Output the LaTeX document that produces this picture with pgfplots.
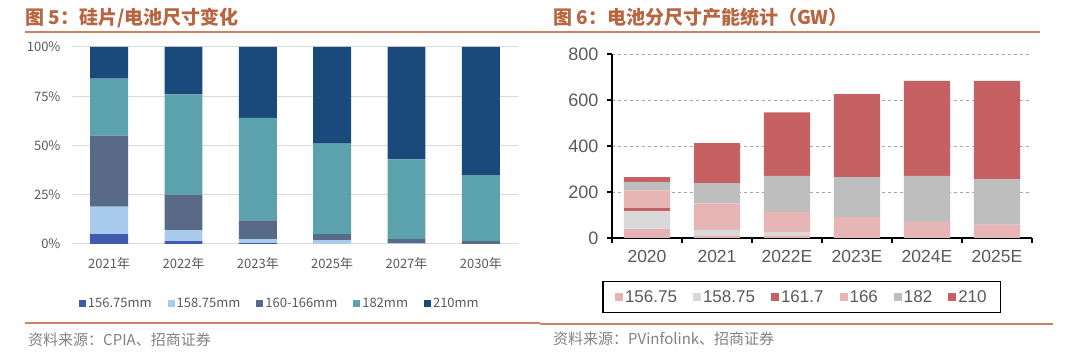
\documentclass[border=0pt]{standalone}
\usepackage{pgfplots}
\pgfplotsset{compat=1.18}
\usepackage{fontspec}
\setmainfont{Liberation Sans}
\newfontfamily\cjk{Noto Sans CJK SC}
\newfontfamily\arial{Liberation Sans}
\definecolor{titlebrown}{RGB}{184,102,66}
\definecolor{linebrown}{RGB}{205,130,100}
\definecolor{lblgrey}{RGB}{90,90,90}
\definecolor{srcgrey}{RGB}{130,130,130}
\definecolor{gridgrey}{RGB}{217,217,217}
\definecolor{cA}{RGB}{64,90,172}
\definecolor{cB}{RGB}{169,203,238}
\definecolor{cC}{RGB}{88,106,133}
\definecolor{cD}{RGB}{91,162,172}
\definecolor{cE}{RGB}{26,74,124}
\definecolor{pA}{RGB}{231,178,179}
\definecolor{pB}{RGB}{217,217,217}
\definecolor{pC}{RGB}{198,97,99}
\definecolor{pD}{RGB}{231,181,182}
\definecolor{pE}{RGB}{190,190,190}
\definecolor{pF}{RGB}{198,97,99}
\begin{document}
\begin{tikzpicture}[x=1pt,y=1pt]
\path[use as bounding box, fill=white] (0pt,0pt) rectangle (1080pt,364pt);
% titles
\node[anchor=base west, inner sep=0, text=titlebrown] at (25pt,339pt) {\cjk\bfseries\fontsize{19}{19}\selectfont 图 5：硅片/电池尺寸变化};
\node[anchor=base west, inner sep=0, text=titlebrown] at (553pt,339pt) {\cjk\bfseries\fontsize{19}{19}\selectfont 图 6：电池分尺寸产能统计（GW）};
\draw[linebrown, line width=2pt] (25pt,332pt) -- (540pt,332pt);
\draw[linebrown, line width=2pt] (540pt,332pt) -- (1040pt,332pt);
\draw[linebrown, line width=1.2pt] (25pt,41pt) -- (540pt,41pt);
\draw[linebrown, line width=1.2pt] (540pt,40pt) -- (1053pt,40pt);
\node[anchor=base west, inner sep=0, text=srcgrey] at (28pt,18pt) {\cjk\fontsize{15}{15}\selectfont 资料来源：CPIA、招商证券};
\node[anchor=base west, inner sep=0, text=srcgrey] at (553pt,19pt) {\cjk\fontsize{15}{15}\selectfont 资料来源：PVinfolink、招商证券};

% left chart
\begin{axis}[
  at={(72pt,120pt)}, anchor=south west,
  width=446pt, height=197pt, scale only axis,
  ybar stacked, bar width=0.51,
  xmin=-0.5, xmax=5.5, ymin=0, ymax=100,
  axis line style={draw=none},
  major tick length=0pt,
  ymajorgrids, grid style={gridgrey, line width=1pt},
  xtick={0,...,5},
  xticklabels={2021年,2022年,2023年,2025年,2027年,2030年},
  ytick={0,25,50,75,100},
  yticklabels={0\%,25\%,50\%,75\%,100\%},
  tick label style={font=\cjk\fontsize{13}{13}\selectfont, text=lblgrey},
  xticklabel style={yshift=-10pt},
  yticklabel style={xshift=-8pt},
  legend columns=5,
  legend style={at={(0.466,-0.30)}, anchor=center, draw=none, fill=none,
    font=\cjk\fontsize{13}{13}\selectfont, text=lblgrey,
    /tikz/every even column/.append style={column sep=14pt}},
  legend image code/.code={\path[#1, draw=none] (0pt,-3.5pt) rectangle (7pt,3.5pt);},
  every axis plot/.append style={draw=none},
]
\addplot[fill=cA] coordinates {(0,5) (1,1.5) (2,0.5) (3,0) (4,0) (5,0)};
\addplot[fill=cB] coordinates {(0,14) (1,5.5) (2,2) (3,2) (4,0.5) (5,0)};
\addplot[fill=cC] coordinates {(0,36) (1,18) (2,9.5) (3,3) (4,2) (5,1.5)};
\addplot[fill=cD] coordinates {(0,29) (1,51) (2,52) (3,46) (4,40.5) (5,33.5)};
\addplot[fill=cE] coordinates {(0,16) (1,24) (2,36) (3,49) (4,57) (5,65)};
\legend{156.75mm,158.75mm,160-166mm,182mm,210mm}
\end{axis}

% right chart
\begin{axis}[
  at={(612pt,126pt)}, anchor=south west,
  width=420pt, height=184pt, scale only axis,
  ybar stacked, bar width=0.66,
  xmin=-0.5, xmax=5.5, ymin=0, ymax=800,
  axis x line*=bottom, axis y line*=left,
  axis line style={line width=1.3pt, -, black},
  tick align=outside,
  major tick length=0pt, minor tick length=5pt,
  minor tick style={line width=1.3pt, black},
  xtick={0,...,5},
  xticklabels={2020,2021,2022E,2023E,2024E,2025E},
  minor xtick={-0.5,0.5,...,5.5},
  ytick={0,200,...,800},
  minor ytick={0,200,...,800},
  ymajorgrids, grid style={gray!70, dashed, line width=0.6pt},
  tick label style={text=lblgrey},
  xticklabel style={font=\arial\fontsize{17.5}{17.5}\selectfont, yshift=-9pt},
  yticklabel style={font=\arial\fontsize{18}{18}\selectfont, xshift=-10pt},
  /pgf/number format/assume math mode=true,
  legend columns=6,
  legend style={at={(0.452,-0.32)}, anchor=center, draw=black, line width=1.3pt,
    font=\arial\fontsize{17}{17}\selectfont, text=lblgrey,
    inner xsep=12pt, inner ysep=7pt,
    /tikz/every even column/.append style={column sep=14pt}},
  legend image code/.code={\path[#1, draw=none] (0pt,-4pt) rectangle (8pt,4pt);},
  every axis plot/.append style={draw=none},
]
\addplot[fill=pA] coordinates {(0,39) (1,10) (2,10) (3,0) (4,0) (5,0)};
\addplot[fill=pB] coordinates {(0,78) (1,25) (2,15) (3,0) (4,0) (5,0)};
\addplot[fill=pC] coordinates {(0,12) (1,0) (2,0) (3,0) (4,0) (5,0)};
\addplot[fill=pD] coordinates {(0,78) (1,116) (2,89) (3,91) (4,70) (5,58)};
\addplot[fill=pE] coordinates {(0,36) (1,88) (2,156) (3,174) (4,200) (5,197)};
\addplot[fill=pF] coordinates {(0,22) (1,174) (2,276) (3,360) (4,413) (5,428)};
\legend{156.75,158.75,161.7,166,182,210}
\end{axis}
\end{tikzpicture}
\end{document}
